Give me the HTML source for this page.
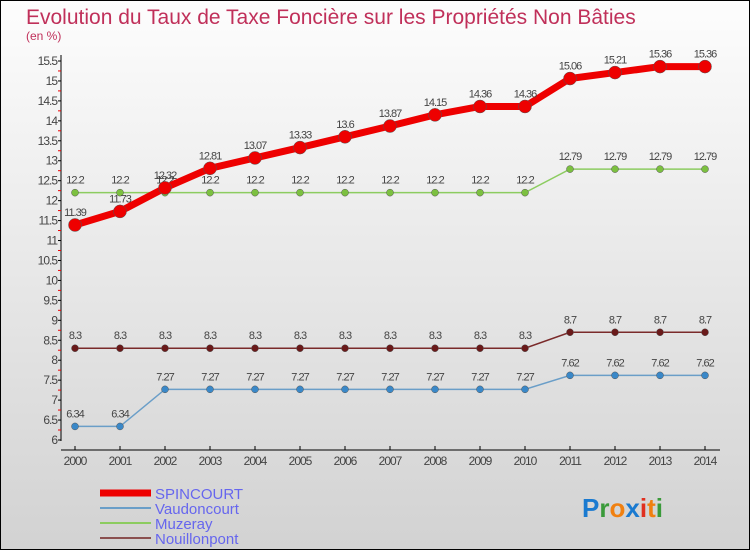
<!DOCTYPE html>
<html><head><meta charset="utf-8"><style>
body{margin:0;width:750px;height:550px;overflow:hidden;font-family:"Liberation Sans",sans-serif}
svg{display:block}
</style></head><body>
<svg id="chart" width="750" height="550" xmlns="http://www.w3.org/2000/svg">
<defs><linearGradient id="bg" x1="0" y1="0" x2="0" y2="1"><stop offset="0" stop-color="#fdfdfd"/><stop offset="1" stop-color="#d2d2d2"/></linearGradient></defs>
<rect x="0.5" y="0.5" width="749" height="549" fill="url(#bg)" stroke="#000"/>
<text x="26" y="24" font-size="21" fill="#c0305a">Evolution du Taux de Taxe Foncière sur les Propriétés Non Bâties</text>
<text x="26" y="40" font-size="12" fill="#c0305a">(en %)</text>
<g id="axes"></g><g id="series"></g>
<g>
<line x1="100" y1="493" x2="151" y2="493" stroke="#e00" stroke-width="7"/>
<text x="155" y="499" font-size="15" fill="#6666ee">SPINCOURT</text>
<line x1="100" y1="508" x2="151" y2="508" stroke="#6a9ec8" stroke-width="2"/>
<text x="155" y="514" font-size="15" fill="#6666ee">Vaudoncourt</text>
<line x1="100" y1="523" x2="151" y2="523" stroke="#8ccc60" stroke-width="2"/>
<text x="155" y="529" font-size="15" fill="#6666ee">Muzeray</text>
<line x1="100" y1="538" x2="151" y2="538" stroke="#8a5050" stroke-width="2"/>
<text x="155" y="544" font-size="15" fill="#6666ee">Nouillonpont</text>
</g>
<text x="582" y="517" font-size="26" font-weight="bold"><tspan fill="#1a7ad0">P</tspan><tspan fill="#3a9a3a">r</tspan><tspan fill="#f08010">o</tspan><tspan fill="#1a7ad0">x</tspan><tspan fill="#e03020">i</tspan><tspan fill="#f08010">t</tspan><tspan fill="#3a9a3a">i</tspan></text>
</svg>
<script>
const years=[2000,2001,2002,2003,2004,2005,2006,2007,2008,2009,2010,2011,2012,2013,2014];
const spincourt=[11.39,11.73,12.32,12.81,13.07,13.33,13.6,13.87,14.15,14.36,14.36,15.06,15.21,15.36,15.36];
const vaudoncourt=[6.34,6.34,7.27,7.27,7.27,7.27,7.27,7.27,7.27,7.27,7.27,7.62,7.62,7.62,7.62];
const muzeray=[12.2,12.2,12.2,12.2,12.2,12.2,12.2,12.2,12.2,12.2,12.2,12.79,12.79,12.79,12.79];
const nouillonpont=[8.3,8.3,8.3,8.3,8.3,8.3,8.3,8.3,8.3,8.3,8.3,8.7,8.7,8.7,8.7];
const yTicks=[6,6.5,7,7.5,8,8.5,9,9.5,10,10.5,11,11.5,12,12.5,13,13.5,14,14.5,15,15.5];
const NS="http://www.w3.org/2000/svg";
const x=i=>75+i*(705-75)/(years.length-1);
const y=v=>440-(v-6)*(379/9.5);
function mk(tag,attrs,parent){const e=document.createElementNS(NS,tag);for(const k in attrs)e.setAttribute(k,attrs[k]);parent.appendChild(e);return e;}
const ax=document.getElementById('axes');
const yl=mk('line',{x1:61,y1:55,x2:61,y2:441,stroke:'#000'},ax);


yTicks.forEach(t=>{
  const yy=y(t);
  mk('line',{x1:58,y1:yy,x2:61,y2:yy,stroke:'#000'},ax);
  if(t<15.5) mk('line',{x1:58,y1:yy-10,x2:61,y2:yy-10,stroke:'#e00'},ax);
  const tx=mk('text',{x:57,y:yy+4,'font-size':12,'text-anchor':'end',fill:'#444','letter-spacing':'-1'},ax);
  tx.textContent=String(t);
  
  
});
const xl=mk('line',{x1:61,y1:450,x2:720,y2:450,stroke:'#000'},ax);


years.forEach((yr,i)=>{
  mk('line',{x1:x(i),y1:446,x2:x(i),y2:450,stroke:'#000'},ax);
  const tx=mk('text',{x:x(i),y:465,'font-size':12,'text-anchor':'middle',fill:'#444','letter-spacing':'-1'},ax);
  tx.textContent=String(yr);
  
  
});
const sg=document.getElementById('series');
function series(vals,color,w,r,name,dotColor){
  const g=mk('g',{},sg);
  
  
  mk('polyline',{points:vals.map((v,i)=>x(i)+','+y(v)).join(' '),fill:'none',stroke:color,'stroke-width':w},g);
  vals.forEach((v,i)=>{
    const c=mk('circle',{cx:x(i),cy:y(v),r:r,fill:dotColor,stroke:'#555','stroke-width':0.5},g);
    
    
    const t=mk('text',{x:x(i),y:y(v)-9,'font-size':11,'text-anchor':'middle',fill:'#444','letter-spacing':'-1'},g);
    t.textContent=String(v);
    
    
  });
}
series(vaudoncourt,'#6a9ec8',1.5,3.5,'vaudoncourt','#3a88c8');
series(nouillonpont,'#7a2a2a',1.5,3.5,'nouillonpont','#6a1a1a');
series(muzeray,'#8ccc60',1.5,3.5,'muzeray','#7cc040');
series(spincourt,'#e00',7,6.5,'spincourt','#e00');
</script>
</body></html>
